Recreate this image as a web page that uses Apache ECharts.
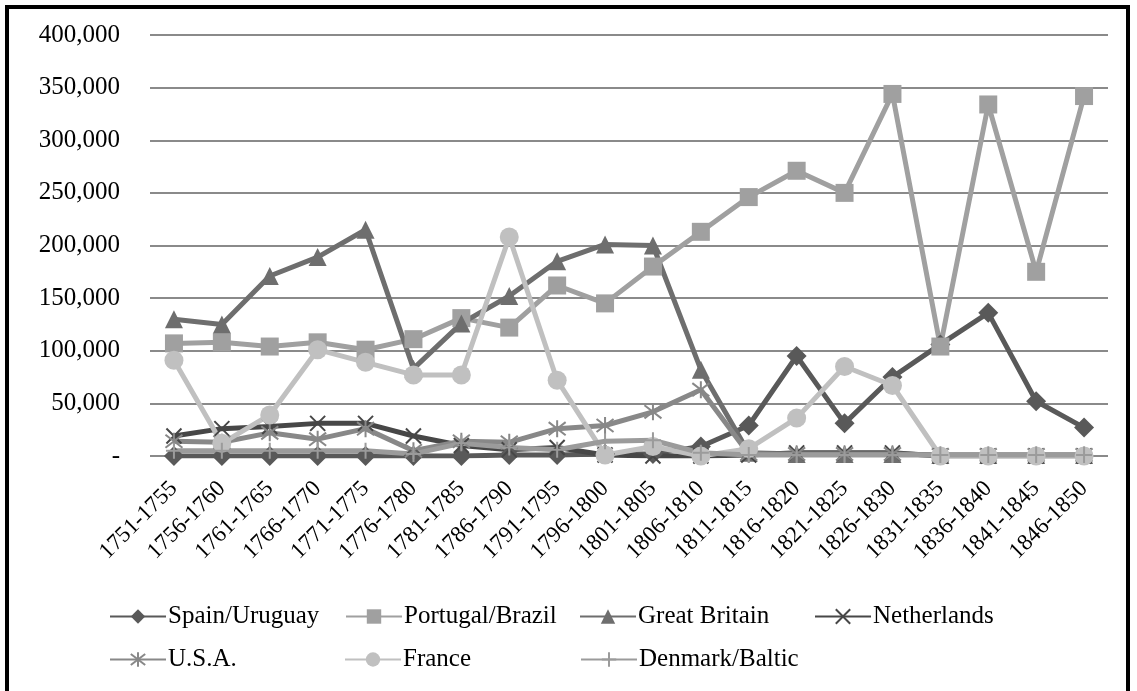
<!DOCTYPE html>
<html>
<head>
<meta charset="utf-8">
<script src="https://cdn.jsdelivr.net/npm/echarts@6/dist/echarts.min.js"></script>
<style>
  html, body { margin: 0; padding: 0; background: #fff; }
  #chart { width: 1137px; height: 691px; }
</style>
</head>
<body>
<div id="chart"></div>
<script>
// data
var periods = ['1751-1755','1756-1760','1761-1765','1766-1770','1771-1775','1776-1780','1781-1785','1786-1790','1791-1795','1796-1800',
               '1801-1805','1806-1810','1811-1815','1816-1820','1821-1825','1826-1830','1831-1835','1836-1840','1841-1845','1846-1850'];
var spain       = [0,0,0,0,0,0,0,1000,1000,2000,2000,9000,29000,95000,31000,75000,106000,136000,52000,27000];
var portugal    = [107000,108000,104000,108000,101000,111000,131000,122000,162000,145000,180000,213000,246000,271000,250000,344000,104000,334000,175000,342000];
var britain     = [130000,125000,171000,189000,215000,83000,126000,152000,185000,201000,200000,82000,3000,2000,2000,2000,1000,1000,1000,1000];
var netherlands = [19000,26000,28000,31000,31000,19000,10000,6000,8000,1000,0,0,1000,3000,3000,3000,0,0,0,0];
var usa         = [14000,13000,22000,16000,26000,5000,14000,13000,26000,29000,42000,63000,2000,2000,2000,2000,1000,1000,1000,1000];
var france      = [91000,12000,39000,101000,89000,77000,77000,208000,72000,1000,9000,0,7000,36000,85000,67000,0,0,0,0];
var denmark     = [5000,5000,5000,5000,5000,2000,12000,8000,6000,14000,15000,3000,1000,1000,1000,1000,1000,1000,1000,1000];

var names = ['Spain/Uruguay','Portugal/Brazil','Great Britain','Netherlands','U.S.A.','France','Denmark/Baltic'];
var values = [spain, portugal, britain, netherlands, usa, france, denmark];

var colors = ['#595959','#a0a0a0','#6e6e6e','#474747','#888888','#c0c0c0','#9b9b9b'];
var symbols = ['diamond','rect','triangle',
  'path://M0,0L10,10M10,0L0,10',
  'path://M0,0L10,10M10,0L0,10M5,-1.5L5,11.5',
  'circle',
  'path://M5,0L5,10M0,5L10,5'];
var sizes = [20,18,18,15,17,19,16];
var stroked = [false,false,false,true,true,false,true];

var font = 'Liberation Serif';

var series = [];
for (var i = 0; i < names.length; i++) {
  series.push({
    name: names[i],
    type: 'line',
    data: values[i],
    symbol: symbols[i],
    symbolSize: sizes[i],
    showAllSymbol: true,
    color: colors[i],
    lineStyle: { width: 5, color: colors[i] },
    itemStyle: stroked[i]
      ? { color: colors[i], borderColor: colors[i], borderWidth: 2 }
      : { color: colors[i], borderWidth: 0 },
    emphasis: { disabled: true },
    animation: false
  });
}

// one legend per entry, laid out in columns like the original
var legendLeft = [109, 345, 579, 814, 109, 344, 580];
var legendTop  = [604, 604, 604, 604, 647, 647, 647];
var legends = [];
for (var j = 0; j < names.length; j++) {
  legends.push({
    data: [names[j]],
    left: legendLeft[j],
    top: legendTop[j],
    itemWidth: 56,
    itemHeight: 18,
    itemGap: 0,
    padding: 0,
    textStyle: { fontFamily: font, fontSize: 25, color: '#000', padding: [0, 0, 0, -3] },
    selectedMode: false
  });
}

var chart = echarts.init(document.getElementById('chart'));
chart.setOption({
  backgroundColor: '#fff',
  animation: false,
  textStyle: { fontFamily: font },
  legend: legends,
  grid: { left: 150, right: 29, top: 35, bottom: 235, containLabel: false },
  xAxis: {
    type: 'category',
    data: periods,
    boundaryGap: true,
    axisLine: { show: false },
    axisTick: { show: false },
    axisLabel: {
      rotate: 45,
      interval: 0,
      margin: 29,
      fontFamily: font,
      fontSize: 23,
      color: '#000'
    }
  },
  yAxis: {
    type: 'value',
    min: 0,
    max: 400000,
    interval: 50000,
    axisLine: { show: false },
    axisTick: { show: false },
    splitLine: { lineStyle: { color: '#8a8a8a', width: 2 } },
    axisLabel: {
      margin: 30,
      fontFamily: font,
      fontSize: 25,
      color: '#000',
      formatter: function (v) { return v === 0 ? '-' : v.toLocaleString('en-US'); }
    }
  },
  graphic: [{
    type: 'rect',
    shape: { x: 7, y: 7, width: 1121, height: 700 },
    style: { fill: 'none', stroke: '#000', lineWidth: 4 },
    silent: true
  }],
  series: series
});
</script>
</body>
</html>
